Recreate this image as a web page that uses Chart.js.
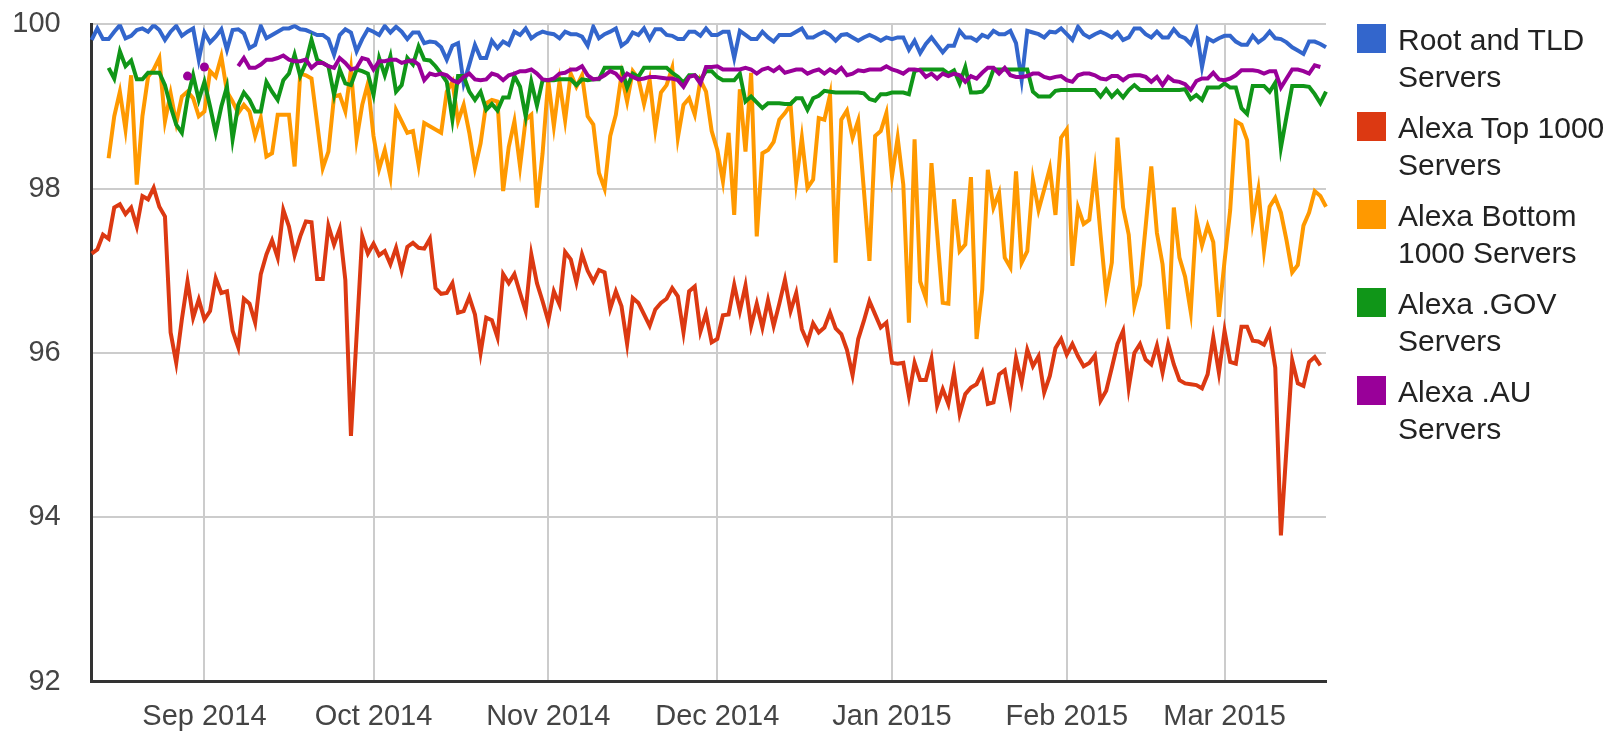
<!DOCTYPE html>
<html>
<head>
<meta charset="utf-8">
<title>DNSSEC validation</title>
<script src="https://cdn.jsdelivr.net/npm/chart.js@4.4.1/dist/chart.umd.min.js"></script>
<style>
  body { margin: 0; background: #fff; }
  #wrap { position: relative; width: 1612px; height: 734px; }
  #legend { position: absolute; left: 0; top: 0; font-family: 'Liberation Sans', Arial, sans-serif; font-size: 30px; color: #222; }
  .item { position: absolute; left: 1357px; white-space: nowrap; }
  .box { position: absolute; left: 0; width: 29px; height: 29px; }
  .txt { position: absolute; left: 41px; line-height: 37px; }
</style>
</head>
<body>
<div id="wrap">
  <canvas id="chart" width="1612" height="734"></canvas>
  <div id="legend"></div>
</div>
<script>
// first day of the series is 12 Aug 2014, one value per day
const startDate = new Date(2014, 7, 12);
const dayCount = 220;

const tickDays = [20, 50, 81, 111, 142, 173, 201];
const tickLabels = ['Sep 2014', 'Oct 2014', 'Nov 2014', 'Dec 2014', 'Jan 2015', 'Feb 2015', 'Mar 2015'];

const seriesNames = [
  ['Root and TLD', 'Servers'],
  ['Alexa Top 1000', 'Servers'],
  ['Alexa Bottom', '1000 Servers'],
  ['Alexa .GOV', 'Servers'],
  ['Alexa .AU', 'Servers']
];
const seriesColors = ['#3366cc', '#dc3912', '#ff9900', '#109618', '#990099'];

const rootTld = [
  99.81, 99.95, 99.82, 99.82, 99.91, 99.99, 99.83, 99.86, 99.93, 99.95, 99.91, 99.99, 99.93, 99.81, 99.91, 99.98,
  99.86, 99.91, 99.95, 99.57, 99.90, 99.78, 99.85, 99.94, 99.69, 99.93, 99.94, 99.89, 99.71, 99.75, 99.98, 99.83,
  99.87, 99.91, 99.95, 99.95, 99.98, 99.94, 99.93, 99.90, 99.87, 99.87, 99.82, 99.63, 99.87, 99.94, 99.90, 99.67,
  99.82, 99.94, 99.91, 99.87, 99.98, 99.90, 99.97, 99.91, 99.82, 99.90, 99.90, 99.77, 99.79, 99.78, 99.72, 99.57,
  99.74, 99.77, 99.28, 99.51, 99.75, 99.59, 99.59, 99.80, 99.71, 99.79, 99.75, 99.91, 99.87, 99.95, 99.83, 99.88,
  99.91, 99.89, 99.88, 99.83, 99.91, 99.88, 99.88, 99.85, 99.74, 99.97, 99.83, 99.88, 99.91, 99.95, 99.74, 99.79,
  99.90, 99.87, 99.95, 99.82, 99.94, 99.94, 99.87, 99.86, 99.82, 99.82, 99.91, 99.91, 99.86, 99.95, 99.87, 99.87,
  99.91, 99.91, 99.59, 99.92, 99.87, 99.82, 99.82, 99.91, 99.84, 99.79, 99.87, 99.87, 99.87, 99.91, 99.95, 99.84,
  99.84, 99.88, 99.91, 99.87, 99.80, 99.87, 99.88, 99.84, 99.80, 99.84, 99.87, 99.84, 99.80, 99.84, 99.82, 99.84,
  99.84, 99.69, 99.80, 99.65, 99.76, 99.84, 99.75, 99.66, 99.74, 99.74, 99.92, 99.84, 99.84, 99.80, 99.87, 99.84,
  99.92, 99.88, 99.88, 99.92, 99.77, 99.32, 99.92, 99.90, 99.88, 99.84, 99.91, 99.90, 99.95, 99.88, 99.81, 99.97,
  99.88, 99.84, 99.88, 99.91, 99.88, 99.84, 99.90, 99.81, 99.84, 99.95, 99.95, 99.88, 99.84, 99.91, 99.84, 99.84,
  99.94, 99.86, 99.83, 99.76, 99.94, 99.48, 99.83, 99.79, 99.83, 99.86, 99.86, 99.79, 99.75, 99.75, 99.86, 99.78,
  99.83, 99.91, 99.83, 99.82, 99.78, 99.72, 99.68, 99.64, 99.79, 99.79, 99.76, 99.72
];

const alexaTop = [
  97.21, 97.26, 97.44, 97.39, 97.77, 97.81, 97.69, 97.77, 97.54, 97.91, 97.87, 98.01, 97.78, 97.66, 96.25, 95.88,
  96.41, 96.87, 96.43, 96.65, 96.41, 96.51, 96.91, 96.73, 96.75, 96.27, 96.07, 96.66, 96.60, 96.37, 96.96, 97.20,
  97.37, 97.16, 97.74, 97.54, 97.19, 97.42, 97.60, 97.59, 96.90, 96.90, 97.55, 97.32, 97.51, 96.89, 94.99, 96.21,
  97.42, 97.21, 97.33, 97.19, 97.24, 97.08, 97.28, 97.00, 97.29, 97.34, 97.28, 97.27, 97.39, 96.79, 96.72, 96.73,
  96.85, 96.49, 96.51, 96.68, 96.47, 96.00, 96.43, 96.40, 96.19, 96.96, 96.85, 96.96, 96.73, 96.51, 97.20, 96.85,
  96.63, 96.39, 96.75, 96.59, 97.23, 97.14, 96.86, 97.20, 97.00, 96.87, 97.01, 96.98, 96.54, 96.75, 96.57, 96.11,
  96.67, 96.61, 96.47, 96.33, 96.53, 96.61, 96.66, 96.79, 96.69, 96.25, 96.75, 96.81, 96.26, 96.48, 96.13, 96.17,
  96.46, 96.47, 96.83, 96.51, 96.82, 96.33, 96.60, 96.31, 96.64, 96.33, 96.60, 96.89, 96.51, 96.73, 96.29, 96.13,
  96.36, 96.25, 96.31, 96.49, 96.30, 96.23, 96.04, 95.73, 96.17, 96.39, 96.63, 96.47, 96.31, 96.37, 95.88, 95.87,
  95.88, 95.48, 95.88, 95.67, 95.67, 95.93, 95.36, 95.56, 95.38, 95.76, 95.26, 95.50, 95.58, 95.62, 95.76, 95.38,
  95.40, 95.74, 95.79, 95.42, 95.94, 95.64, 96.04, 95.84, 95.96, 95.52, 95.72, 96.06, 96.17, 95.98, 96.11, 95.96,
  95.84, 95.88, 95.97, 95.42, 95.54, 95.82, 96.11, 96.27, 95.58, 96.00, 96.11, 95.92, 95.86, 96.09, 95.76, 96.11,
  95.86, 95.67, 95.63, 95.62, 95.61, 95.57, 95.74, 96.19, 95.76, 96.27, 95.89, 95.87, 96.32, 96.32, 96.15, 96.14,
  96.10, 96.25, 95.82, 93.78, 94.85, 95.91, 95.63, 95.60, 95.89, 95.95, 95.85, null
];

const alexaBottom = [
  null, null, null, 98.37, 98.88, 99.18, 98.72, 99.38, 98.05, 98.88, 99.36, 99.45, 99.59, 98.82, 99.16, 98.80,
  99.12, 99.18, 99.10, 98.88, 98.94, 99.43, 99.36, 99.61, 99.18, 99.06, 98.92, 99.02, 98.94, 98.64, 98.86, 98.39,
  98.43, 98.90, 98.90, 98.90, 98.27, 99.40, 99.38, 99.34, 98.80, 98.25, 98.45, 99.12, 99.14, 98.94, 99.45, 98.60,
  99.02, 99.28, 98.64, 98.24, 98.47, 98.14, 98.96, 98.82, 98.68, 98.70, 98.29, 98.80, 98.76, 98.72, 98.68, 99.18,
  99.30, 98.82, 99.02, 98.68, 98.25, 98.55, 99.04, 99.08, 99.06, 97.97, 98.51, 98.82, 98.27, 98.84, 98.90, 97.77,
  98.43, 99.32, 98.76, 99.30, 98.83, 99.40, 99.24, 99.38, 98.88, 98.78, 98.19, 98.00, 98.64, 98.90, 99.38, 99.06,
  99.43, 99.34, 99.03, 99.32, 98.72, 99.17, 99.26, 99.47, 98.62, 99.02, 99.10, 98.90, 99.32, 99.18, 98.70, 98.47,
  98.09, 98.68, 97.68, 99.21, 98.45, 99.41, 97.42, 98.43, 98.47, 98.57, 98.84, 98.92, 99.02, 98.09, 98.62, 98.01,
  98.11, 98.86, 98.84, 99.14, 97.10, 98.84, 98.95, 98.62, 98.83, 97.99, 97.12, 98.64, 98.70, 98.92, 98.15, 98.62,
  98.05, 96.37, 98.60, 96.87, 96.67, 98.31, 97.46, 96.61, 96.60, 97.87, 97.24, 97.32, 98.14, 96.17, 96.77, 98.23,
  97.77, 97.95, 97.16, 97.04, 98.21, 97.10, 97.24, 98.11, 97.74, 97.99, 98.25, 97.68, 98.62, 98.72, 97.06, 97.77,
  97.57, 97.62, 98.22, 97.44, 96.72, 97.10, 98.62, 97.77, 97.44, 96.57, 96.83, 97.54, 98.27, 97.46, 97.08, 96.29,
  97.77, 97.16, 96.93, 96.50, 97.64, 97.31, 97.55, 97.35, 96.44, 97.12, 97.74, 98.82, 98.78, 98.59, 97.60, 97.99,
  97.25, 97.78, 97.89, 97.71, 97.37, 96.98, 97.07, 97.55, 97.71, 97.97, 97.91, 97.78
];

const alexaGov = [
  null, null, null, 99.47, 99.34, 99.67, 99.49, 99.56, 99.33, 99.33, 99.41, 99.41, 99.41, 99.26, 99.00, 98.78,
  98.68, 99.10, 99.38, 99.08, 99.30, 99.00, 98.68, 99.00, 99.24, 98.60, 99.02, 99.17, 99.08, 98.94, 98.94, 99.30,
  99.18, 99.08, 99.32, 99.40, 99.63, 99.37, 99.53, 99.81, 99.57, 99.53, 99.49, 99.14, 99.45, 99.28, 99.26, 99.45,
  99.43, 99.40, 99.14, 99.59, 99.38, 99.61, 99.18, 99.26, 99.59, 99.51, 99.73, 99.57, 99.56, 99.49, 99.40, 99.30,
  98.84, 99.37, 99.37, 99.18, 99.08, 99.18, 98.96, 99.03, 98.95, 99.11, 99.11, 99.37, 99.24, 98.88, 99.30, 99.01,
  99.32, 99.32, 99.32, 99.33, 99.33, 99.33, 99.26, 99.33, 99.32, 99.33, 99.33, 99.47, 99.47, 99.47, 99.47, 99.23,
  99.40, 99.36, 99.47, 99.47, 99.47, 99.47, 99.47, 99.41, 99.36, 99.29, 99.38, 99.38, 99.32, 99.43, 99.43, 99.36,
  99.32, 99.32, 99.32, 99.40, 99.06, 99.12, 99.05, 98.98, 99.04, 99.04, 99.04, 99.03, 99.03, 99.10, 99.10, 98.96,
  99.10, 99.13, 99.19, 99.18, 99.17, 99.17, 99.17, 99.17, 99.17, 99.16, 99.09, 99.07, 99.15, 99.15, 99.17, 99.17,
  99.17, 99.15, 99.43, 99.45, 99.45, 99.45, 99.45, 99.45, 99.40, 99.44, 99.28, 99.48, 99.17, 99.17, 99.18, 99.26,
  99.45, 99.45, 99.45, 99.45, 99.45, 99.45, 99.45, 99.18, 99.12, 99.12, 99.12, 99.19, 99.20, 99.20, 99.20, 99.20,
  99.20, 99.20, 99.20, 99.12, 99.21, 99.12, 99.19, 99.11, 99.20, 99.26, 99.20, 99.20, 99.20, 99.20, 99.20, 99.20,
  99.20, 99.20, 99.21, 99.09, 99.14, 99.08, 99.23, 99.23, 99.23, 99.28, 99.23, 99.23, 98.98, 98.91, 99.25, 99.25,
  99.25, 99.18, 99.29, 98.50, 98.88, 99.25, 99.25, 99.25, 99.24, 99.15, 99.04, 99.18
];

const alexaAu = [
  null, null, null, null, null, null, null, null, null, null, null, null, null, null, null, null,
  null, 99.37, null, null, 99.48, null, null, null, null, null, 99.49, 99.59, 99.47, 99.47, 99.51, 99.57,
  99.57, 99.59, 99.62, 99.57, 99.55, 99.55, 99.57, 99.47, 99.53, 99.53, 99.49, 99.47, 99.59, 99.53, 99.45, 99.47,
  99.59, 99.57, 99.45, 99.55, 99.55, 99.57, 99.57, 99.53, 99.55, 99.56, 99.51, 99.32, 99.40, 99.38, 99.40, 99.38,
  99.32, 99.29, 99.36, 99.40, 99.33, 99.32, 99.33, 99.40, 99.38, 99.32, 99.38, 99.40, 99.43, 99.43, 99.45, 99.40,
  99.33, 99.32, 99.34, 99.40, 99.41, 99.45, 99.45, 99.49, 99.38, 99.33, 99.34, 99.38, 99.43, 99.40, 99.32, 99.40,
  99.36, 99.33, 99.34, 99.36, 99.36, 99.35, 99.34, 99.34, 99.32, 99.24, 99.36, 99.38, 99.28, 99.48, 99.48, 99.49,
  99.45, 99.45, 99.45, 99.45, 99.47, 99.45, 99.40, 99.45, 99.47, 99.43, 99.48, 99.41, 99.43, 99.45, 99.45, 99.40,
  99.43, 99.45, 99.40, 99.45, 99.41, 99.47, 99.38, 99.40, 99.44, 99.43, 99.45, 99.45, 99.45, 99.49, 99.45, 99.43,
  99.40, 99.45, 99.45, 99.44, 99.36, 99.40, 99.34, 99.40, 99.37, 99.40, 99.38, 99.30, 99.37, 99.34, 99.41, 99.47,
  99.47, 99.40, 99.47, 99.38, 99.36, 99.36, 99.37, 99.40, 99.40, 99.36, 99.34, 99.36, 99.37, 99.32, 99.30, 99.38,
  99.40, 99.40, 99.38, 99.34, 99.33, 99.37, 99.37, 99.32, 99.37, 99.38, 99.38, 99.36, 99.30, 99.36, 99.26, 99.36,
  99.31, 99.30, 99.27, 99.20, 99.31, 99.34, 99.34, 99.41, 99.33, 99.32, 99.34, 99.38, 99.44, 99.44, 99.44, 99.43,
  99.40, 99.43, 99.43, 99.23, 99.34, 99.45, 99.45, 99.43, 99.40, 99.50, 99.48, null
];

const yMin = 92;
const yMax = 100;
const yStep = 2;

// day labels for the category axis
const labels = [];
for (let i = 0; i < dayCount; i++) {
  const d = new Date(startDate.getFullYear(), startDate.getMonth(), startDate.getDate() + i);
  labels.push(d.toDateString());
}

const allSeries = [rootTld, alexaTop, alexaBottom, alexaGov, alexaAu];

// isolated values (no neighbours) are drawn as dots, like the original
function isolatedRadius(ctx) {
  const d = ctx.dataset.data;
  const i = ctx.dataIndex;
  if (d[i] == null) return 0;
  if (d[i - 1] == null && d[i + 1] == null) return 4.5;
  return 0;
}

const datasets = allSeries.map((data, i) => ({
  label: seriesNames[i].join(' '),
  data: data,
  borderColor: seriesColors[i],
  backgroundColor: seriesColors[i],
  borderWidth: 4,
  pointRadius: isolatedRadius,
  pointBorderWidth: 0,
  pointHoverRadius: 0,
  tension: 0,
  spanGaps: false,
  fill: false,
  order: 5 - i
}));

Chart.defaults.font.family = "'Liberation Sans', Arial, sans-serif";

new Chart(document.getElementById('chart'), {
  type: 'line',
  data: { labels: labels, datasets: datasets },
  options: {
    responsive: false,
    animation: false,
    events: [],
    layout: { padding: { top: 24.3, right: 286, left: 0, bottom: 0 } },
    plugins: {
      legend: { display: false },
      tooltip: { enabled: false }
    },
    scales: {
      x: {
        type: 'category',
        offset: false,
        afterFit: scale => { scale.height = 52.3; },
        grid: {
          drawTicks: false,
          color: ctx => tickDays.includes(ctx.index) ? '#cccccc' : 'rgba(0,0,0,0)',
          lineWidth: 2
        },
        border: { display: true, color: '#333333', width: 3 },
        ticks: {
          autoSkip: false,
          maxRotation: 0,
          minRotation: 0,
          padding: 18,
          color: '#444444',
          font: { size: 29 },
          callback: (value, index) => {
            const k = tickDays.indexOf(index);
            return k >= 0 ? tickLabels[k] : '';
          }
        }
      },
      y: {
        min: yMin,
        max: yMax,
        afterFit: scale => {
          scale.width = 91.7;
          // keep the label padding from pushing the plot down
          scale.paddingTop = 0;
          scale.paddingBottom = 0;
        },
        grid: {
          drawTicks: false,
          color: ctx => ctx.tick && ctx.tick.value === yMin ? '#333333' : '#cccccc',
          lineWidth: 2
        },
        border: { display: true, color: '#333333', width: 3 },
        ticks: {
          stepSize: yStep,
          padding: 31,
          color: '#444444',
          font: { size: 29 }
        }
      }
    }
  }
});

// legend on the right, two lines per entry
const legend = document.getElementById('legend');
const legendTop = 38;
const legendGap = 88;
seriesNames.forEach((name, i) => {
  const center = legendTop + i * legendGap;
  const item = document.createElement('div');
  item.className = 'item';
  item.style.top = center + 'px';
  item.innerHTML = `
    <div class="box" style="top:-14.5px;background:${seriesColors[i]}"></div>
    <div class="txt" style="top:-17.5px">${name[0]}<br>${name[1]}</div>
  `;
  legend.appendChild(item);
});
</script>
</body>
</html>
